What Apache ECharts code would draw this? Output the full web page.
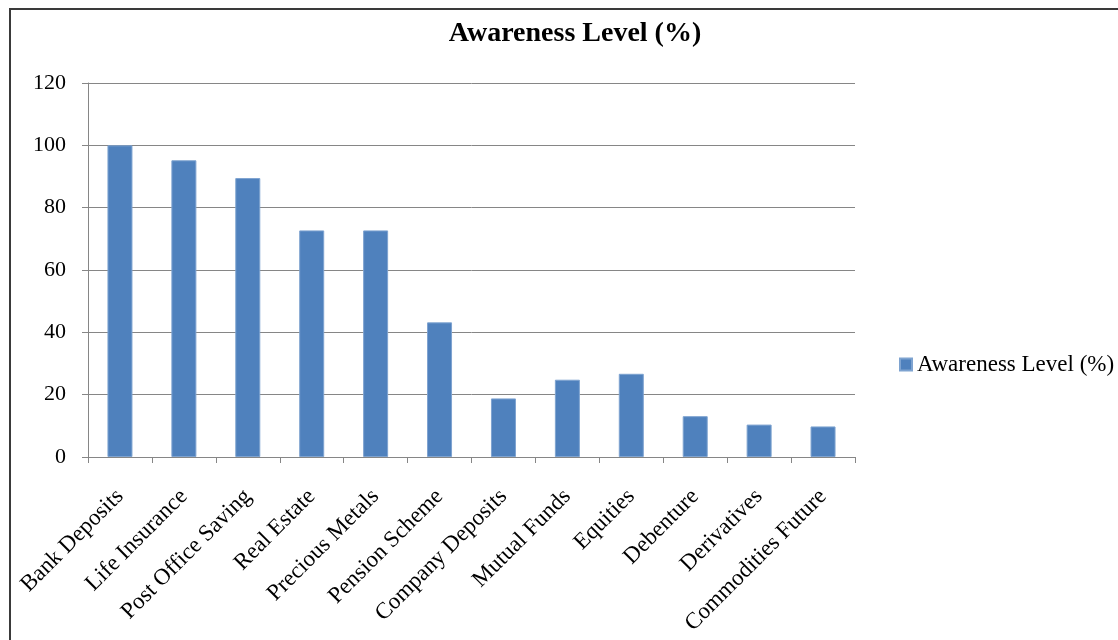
<!DOCTYPE html>
<html>
<head>
<meta charset="utf-8">
<title>Awareness Level (%)</title>
<script src="https://cdn.jsdelivr.net/npm/echarts@6/dist/echarts.min.js"></script>
<style>
  html, body { margin: 0; padding: 0; background: #fff; }
  #main { width: 1118px; height: 640px; }
</style>
</head>
<body>
<div id="main"></div>
<script>
// 数据
var categories = [
  "Bank Deposits", "Life Insurance", "Post Office Saving", "Real Estate",
  "Precious Metals", "Pension Scheme", "Company Deposits", "Mutual Funds",
  "Equities", "Debenture", "Derivatives", "Commodities Future"
];
var awareness = [100, 95.2, 89.5, 72.7, 72.7, 43.2, 18.8, 24.8, 26.7, 13.1, 10.4, 9.8];
var yTicks = [0, 20, 40, 60, 80, 100, 120];

var seriesName = "Awareness Level (%)";
var serif = "'Liberation Serif', 'DejaVu Serif', serif";

var myChart = echarts.init(document.getElementById("main"));
var option = {
  backgroundColor: "#fff",
  animation: false,
  title: {
    text: seriesName,
    left: 570,
    top: 15,
    textAlign: "center",
    textStyle: { fontFamily: serif, fontWeight: "bold", fontSize: 28, color: "#000" }
  },
  legend: {
    data: [seriesName],
    left: 894,
    top: 348,
    itemWidth: 12,
    itemHeight: 12,
    itemGap: 8,
    icon: "rect",
    textStyle: { fontFamily: serif, fontSize: 23, color: "#000" }
  },
  grid: { left: 88, right: 263, top: 83, bottom: 183 },
  xAxis: {
    type: "category",
    data: categories,
    axisLine: { lineStyle: { color: "#868686", width: 1 } },
    axisTick: { show: true, length: 6, lineStyle: { color: "#868686" } },
    axisLabel: { rotate: 45, margin: 36, interval: 0, fontFamily: serif, fontSize: 23, color: "#000" }
  },
  yAxis: {
    type: "value",
    min: yTicks[0],
    max: yTicks[yTicks.length - 1],
    interval: 20,
    axisLine: { show: true, lineStyle: { color: "#868686", width: 1 } },
    axisTick: { show: true, length: 6, lineStyle: { color: "#868686" } },
    splitLine: { lineStyle: { color: "#868686", width: 1 } },
    axisLabel: { margin: 22, fontFamily: serif, fontSize: 22, color: "#000" }
  },
  graphic: [{
    type: "rect",
    shape: { x: 10, y: 9, width: 1200, height: 700 },
    style: { fill: "none", stroke: "#3a3a3a", lineWidth: 2 },
    silent: true
  }],
  series: [{
    name: seriesName,
    type: "bar",
    data: awareness,
    barWidth: 25,
    itemStyle: { color: "#4F81BD", borderColor: "#7EA3D0", borderWidth: 1 }
  }]
};
myChart.setOption(option);
</script>
</body>
</html>
